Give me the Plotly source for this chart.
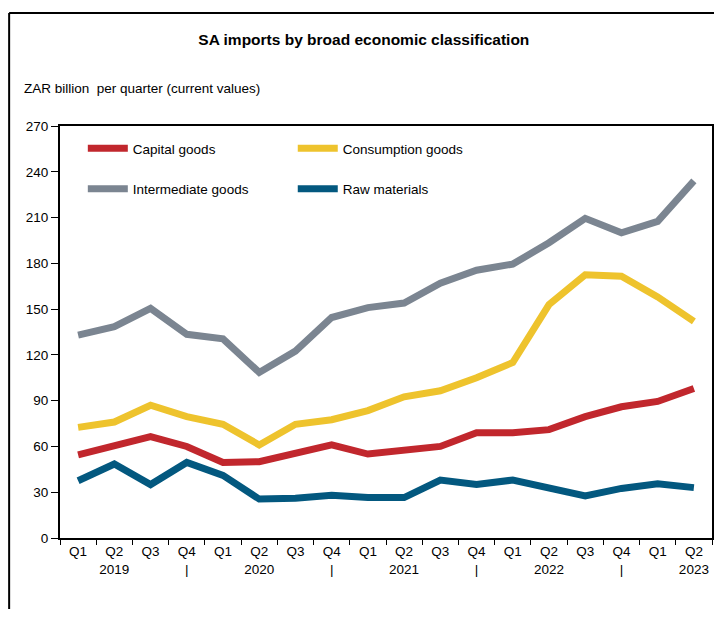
import plotly.graph_objects as go

quarters = ["Q1", "Q2", "Q3", "Q4"] * 4 + ["Q1", "Q2"]
years = [2019] * 4 + [2020] * 4 + [2021] * 4 + [2022] * 4 + [2023] * 2
year_labels = ["", "2019", "", "|", "", "2020", "", "|", "", "2021", "", "|",
               "", "2022", "", "|", "", "2023"]

capital = [54.5, 60, 66.5, 60, 49.5, 50, 56, 61, 55, 57.5, 60, 69, 69, 71, 79.5, 86, 89.5, 98]
consumption = [72.5, 76, 87, 79.5, 74.5, 61, 74.5, 77.5, 83.5, 92.5, 96.5, 105, 115, 153, 172.5, 171.5, 158, 142]
intermediate = [133, 138.5, 150.5, 133.5, 130.5, 108.5, 122.5, 144.5, 151, 154, 167, 175.5, 179.5, 193.5, 209.5, 200, 207.5, 234]
raw = [37.5, 48.5, 35, 49.5, 41, 25.5, 26, 28, 26.5, 26.5, 38, 35, 38, 33, 27.5, 32.5, 35.5, 33]

cats = [f"{q} {y}" for q, y in zip(quarters, years)]
ticktext = [f"{q}<br>{yl}" if yl else q for q, yl in zip(quarters, year_labels)]

series = [
    ("Capital goods", capital, "#c1272d", "legend", "g1"),
    ("Consumption goods", consumption, "#eec32d", "legend2", "g2"),
    ("Intermediate goods", intermediate, "#7b8591", "legend", "g3"),
    ("Raw materials", raw, "#03587f", "legend2", "g4"),
]

font = "Liberation Sans Narrow, Arial Narrow, Liberation Sans, Arial, sans-serif"

fig = go.Figure()
for name, vals, color, leg, grp in series:
    fig.add_trace(go.Scatter(x=cats, y=vals, name=name, mode="lines",
                             line=dict(color=color, width=7),
                             legend=leg, legendgroup=grp))

leg_common = dict(
    bgcolor="rgba(0,0,0,0)", font=dict(size=13.5, color="black", family=font),
    traceorder="grouped", tracegroupgap=20, itemwidth=40,
    xanchor="left", yanchor="top", y=0.983,
)

# the page body has an 8px margin, so keep the figure inside the window
fig.update_layout(
    width=706, height=601,
    margin=dict(l=52, r=2, t=118, b=71),
    paper_bgcolor="white", plot_bgcolor="white",
    font=dict(family=font, size=13.5, color="black"),
    title=dict(text="<b>SA imports by broad economic classification</b>",
               x=0.504, xanchor="center", y=0.947, yanchor="middle",
               font=dict(size=15.5, family=font, color="black")),
    legend=dict(x=0.035, **leg_common),
    legend2=dict(x=0.357, **leg_common),
    xaxis=dict(type="category", tickmode="array", tickvals=cats, ticktext=ticktext,
               range=[-0.5, len(cats) - 0.5],
               tickson="boundaries", ticks="outside", ticklen=5, tickcolor="black",
               tickangle=0, automargin=False,
               showline=True, linecolor="black", linewidth=2, mirror=True,
               showgrid=False, zeroline=False, tickfont=dict(size=13.5)),
    yaxis=dict(range=[0, 270], dtick=30, ticks="outside", ticklen=7, tickcolor="black",
               automargin=False,
               showline=True, linecolor="black", linewidth=2, mirror=True,
               showgrid=False, zeroline=False, tickfont=dict(size=13.5)),
    annotations=[dict(text="ZAR billion  per quarter (current values)", xref="paper", yref="paper",
                      x=-0.0583, y=1.092, xanchor="left", yanchor="middle", showarrow=False,
                      font=dict(size=13.5, family=font, color="black"))],
    shapes=[
        dict(type="line", xref="paper", yref="paper", x0=-0.078, x1=1.01, y0=1.274, y1=1.274,
             line=dict(color="black", width=2)),
        dict(type="line", xref="paper", yref="paper", x0=-0.078, x1=-0.078, y0=1.274, y1=-0.2,
             line=dict(color="black", width=2)),
    ],
)

fig.write_html("out.html")
